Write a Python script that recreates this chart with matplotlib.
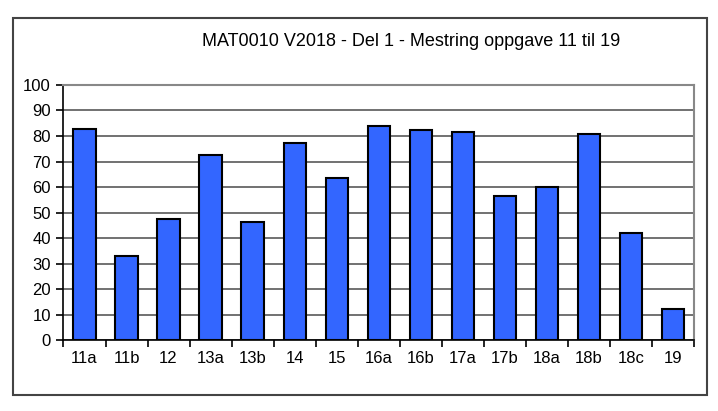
import matplotlib
matplotlib.use("Agg")
import matplotlib.pyplot as plt
import numpy as np
from matplotlib.patches import Rectangle

categories = ["11a", "11b", "12", "13a", "13b", "14", "15", "16a",
              "16b", "17a", "17b", "18a", "18b", "18c", "19"]
values = [82.6, 32.9, 47.3, 72.5, 46.4, 77.1, 63.5, 84.0,
          82.5, 81.6, 56.6, 60.1, 80.8, 41.8, 12.2]
yticks = list(range(0, 101, 10))
title = "MAT0010 V2018 - Del 1 - Mestring oppgave 11 til 19"

plt.rcParams["font.family"] = ["Liberation Sans", "DejaVu Sans"]

fig = plt.figure(figsize=(7.18, 4.11), dpi=100)
ax = fig.add_axes([0.0884, 0.1727, 0.9666 - 0.0884, 0.7932 - 0.1727])

x = np.arange(len(categories))
ax.bar(x, values, width=0.53, color="#3366FF", edgecolor="black",
       linewidth=1.5, zorder=3)

ax.set_xlim(-0.5, len(categories) - 0.5)
ax.set_ylim(0, 100)
ax.set_yticks(yticks)
ax.tick_params(axis="y", labelsize=12, length=5, width=1.2, direction="out", pad=4)
ax.yaxis.grid(True, color="#4a4a4a", linewidth=1.1, zorder=0)

# category labels centred under bars, tick marks at category edges
ax.set_xticks(x)
ax.set_xticklabels(categories, fontsize=12)
ax.tick_params(axis="x", length=0, pad=8)
ax.set_xticks(np.arange(-0.5, len(categories)), minor=True)
ax.tick_params(axis="x", which="minor", length=5, width=1.2, direction="out")

ax.spines["left"].set_linewidth(1.2)
ax.spines["bottom"].set_linewidth(1.2)
ax.spines["top"].set_color("#888888")
ax.spines["right"].set_color("#888888")
ax.spines["top"].set_linewidth(1.5)
ax.spines["right"].set_linewidth(1.5)

fig.text(0.572, 0.898, title, ha="center", va="center", fontsize=13)

fig.patches.append(Rectangle((0.0177, 0.0389), 0.984 - 0.0177, 0.9555 - 0.0389,
                             transform=fig.transFigure, fill=False,
                             edgecolor="#444444", linewidth=1.5))

fig.savefig("out.png", dpi=100)
